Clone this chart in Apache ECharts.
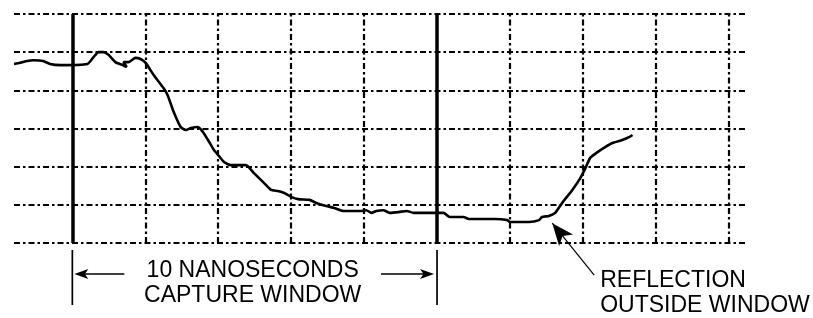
<!DOCTYPE html>
<html><head><meta charset="utf-8">
<script src="https://cdn.jsdelivr.net/npm/echarts@6/dist/echarts.min.js"></script>
<style>html,body{margin:0;padding:0;background:#fff}#c{width:813px;height:318px}</style>
</head><body><div id="c"></div>
<script>
// time in nanoseconds (0 = start of capture window), level in vertical divisions
const timeNs = [-1.60,-1.43,-1.24,-1.07,-0.80,-0.61,-0.33,0.41,0.58,0.72,0.85,0.99,1.18,1.38,1.49,1.40,1.54,1.73,1.87,2.01,2.23,2.50,2.61,2.78,2.97,3.11,3.25,3.44,3.58,3.72,3.88,4.02,4.16,4.35,4.76,4.98,5.26,5.45,5.64,5.81,6.00,6.19,6.50,6.69,6.96,7.18,7.43,7.93,8.06,8.20,8.34,8.53,8.70,8.95,9.17,9.36,9.94,10.18,10.35,10.73,10.87,11.59,11.92,12.00,12.52,12.80,12.88,13.07,13.24,13.43,13.71,13.93,14.07,14.20,14.40,14.62,14.81,15.08,15.28,15.36];
const level  = [4.69,4.72,4.77,4.79,4.77,4.69,4.66,4.69,4.87,5.00,5.00,4.93,4.74,4.66,4.61,4.74,4.74,4.85,4.82,4.72,4.40,4.06,3.88,3.43,3.04,2.96,3.01,3.04,2.91,2.70,2.44,2.28,2.12,2.04,2.04,1.83,1.57,1.39,1.36,1.31,1.21,1.15,1.13,1.05,0.97,0.92,0.84,0.84,0.86,0.79,0.84,0.86,0.79,0.81,0.84,0.79,0.79,0.79,0.68,0.68,0.63,0.63,0.60,0.55,0.55,0.60,0.68,0.71,0.79,1.05,1.39,1.70,1.96,2.23,2.38,2.52,2.62,2.70,2.78,2.83];
const gridTimes = [2,4,6,8,12,14,16,18];
const windowEdges = [0,10];
const windowLabel = ['10 NANOSECONDS','CAPTURE WINDOW'];
const reflectionLabel = ['REFLECTION','OUTSIDE WINDOW'];
const reflectionTip = [13.16, 0.52];
const reflectionTail = [14.31, -0.84];

const chart = echarts.init(document.getElementById('c'), null, {renderer:'canvas'});
const dashDot = [6,3,2.5,3];
const gridStyle = {color:'#000', width:2.2, type:dashDot};
const markData = gridTimes.map(t => ({xAxis:t, lineStyle:gridStyle}))
  .concat(windowEdges.map(t => ({xAxis:t, lineStyle:{color:'#000', width:3.5, type:'solid'}})));

chart.setOption({
  animation:false,
  backgroundColor:'#fff',
  grid:{left:14, right:66, top:14, bottom:75},
  xAxis:{type:'value', min:-1.6, max:18.5, axisLine:{show:false}, axisTick:{show:false}, axisLabel:{show:false}, splitLine:{show:false}},
  yAxis:{type:'value', min:0, max:6, interval:1, axisLine:{show:false}, axisTick:{show:false}, axisLabel:{show:false},
         splitLine:{show:true, lineStyle:gridStyle}},
  series:[{
    type:'line', data: timeNs.map((t,i)=>[t, level[i]]), showSymbol:false, smooth:0.2,
    lineStyle:{color:'#000', width:2.6}, z:5,
    markLine:{silent:true, symbol:['none','none'], label:{show:false}, data:markData, z:3}
  }]
});

function px(p){ return chart.convertToPixel({gridIndex:0}, p); }
function arrowHead(tip, from, L, W){
  const dx = tip[0]-from[0], dy = tip[1]-from[1];
  const len = Math.hypot(dx,dy); const ux = dx/len, uy = dy/len; const nx = -uy, ny = ux;
  return [tip, [tip[0]-L*ux+W*nx, tip[1]-L*uy+W*ny], [tip[0]-0.75*L*ux, tip[1]-0.75*L*uy], [tip[0]-L*ux-W*nx, tip[1]-L*uy-W*ny]];
}
const bottom = px([0,0])[1];
const xa = px([windowEdges[0],0])[0], xb = px([windowEdges[1],0])[0];
const ay = bottom + 31;
const font = '23px "Liberation Sans", Arial, sans-serif';
const g = [];
[xa, xb].forEach(x => g.push({type:'line', shape:{x1:x, y1:bottom+7, x2:x, y2:bottom+62}, style:{stroke:'#000', lineWidth:1.7}}));
const lt = [xa+2, ay], lf = [xa+52, ay];
const rt = [xb-3, ay], rf = [xb-56, ay];
g.push({type:'line', shape:{x1:lf[0], y1:ay, x2:lt[0]+8, y2:ay}, style:{stroke:'#000', lineWidth:1.7}});
g.push({type:'polygon', shape:{points:arrowHead(lt, lf, 14, 5)}, style:{fill:'#000'}});
g.push({type:'line', shape:{x1:rf[0], y1:ay, x2:rt[0]-8, y2:ay}, style:{stroke:'#000', lineWidth:1.7}});
g.push({type:'polygon', shape:{points:arrowHead(rt, rf, 14, 5)}, style:{fill:'#000'}});
const cx = (xa+xb)/2 - 2;
windowLabel.forEach((t,i) => g.push({type:'text', style:{text:t, x:cx, y:bottom+27.5+25*i, font:font, fill:'#000', align:'center', verticalAlign:'middle'}}));
const tip = px(reflectionTip), tail = px(reflectionTail);
g.push({type:'line', shape:{x1:tail[0], y1:tail[1], x2:tip[0], y2:tip[1]}, style:{stroke:'#000', lineWidth:1.2}});
g.push({type:'polygon', shape:{points:arrowHead(tip, tail, 22, 9)}, style:{fill:'#000'}});
reflectionLabel.forEach((t,i) => g.push({type:'text', style:{text:t, x:tail[0]+6, y:bottom+37.5+25*i, font:font, fill:'#000', align:'left', verticalAlign:'middle'}}));
chart.setOption({graphic:g});
</script></body></html>
